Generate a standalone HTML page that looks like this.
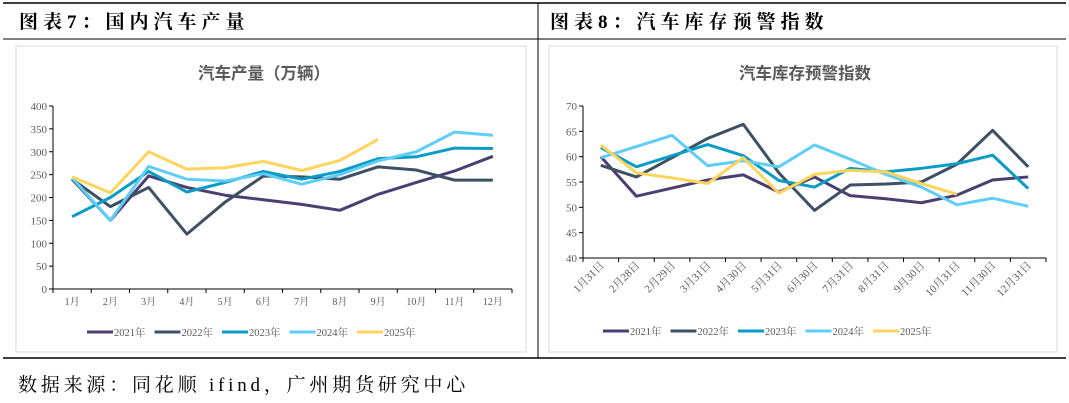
<!DOCTYPE html>
<html><head><meta charset="utf-8">
<style>
body{margin:0;background:#fff;}
svg{display:block;font-family:"Liberation Serif","Noto Serif CJK SC",serif;}
</style></head>
<body>
<svg id="s" width="1069" height="403" viewBox="0 0 1069 403" xmlns="http://www.w3.org/2000/svg">
<line x1="3" y1="3" x2="1066" y2="3" stroke="#000" stroke-width="1.5"/>
<line x1="3" y1="39" x2="1066" y2="39" stroke="#000" stroke-width="1"/>
<line x1="3" y1="358" x2="1066" y2="358" stroke="#000" stroke-width="1.5"/>
<line x1="538" y1="3" x2="538" y2="358" stroke="#000" stroke-width="1"/>
<text x="19" y="28" font-size="19" font-weight="bold" letter-spacing="5">图表7：国内汽车产量</text>
<text x="550" y="28" font-size="19" font-weight="bold" letter-spacing="5">图表8：汽车库存预警指数</text>
<rect x="16" y="46" width="510" height="306" fill="#fff" stroke="#d9d9d9"/>
<rect x="549" y="46" width="508" height="306" fill="#fff" stroke="#d9d9d9"/>
<text x="264" y="79" font-size="16.5" font-weight="bold" fill="#595959" text-anchor="middle" font-family="Liberation Sans,Noto Sans CJK SC,sans-serif">汽车产量（万辆）</text>
<text x="805" y="79" font-size="16.5" font-weight="bold" fill="#595959" text-anchor="middle" font-family="Liberation Sans,Noto Sans CJK SC,sans-serif">汽车库存预警指数</text>
<text x="18" y="391" font-size="19" letter-spacing="3.8">数据来源：同花顺 ifind，广州期货研究中心</text>
<g id="L"></g><g id="R"></g>
</svg>
<script>
const years=["2021年","2022年","2023年","2024年","2025年"];
const colors=["#4b3f72","#3e5064","#0a9bc6","#5ecdf7","#fdd55e"];
const leftCats=["1月","2月","3月","4月","5月","6月","7月","8月","9月","10月","11月","12月"];
const leftTicks=[0,50,100,150,200,250,300,350,400];
const p2021=[240,150,247,222,205,195,185,172,207,233,258,290];
const p2022=[240,180,222,120,190,247,245,240,267,260,238,238];
const p2023=[158,200,257,212,233,257,240,257,285,289,308,307];
const p2024=[243,150,268,240,236,252,229,250,280,300,343,336];
const p2025=[245,210,300,262,265,279,259,281,327];
const rightCats=["1月31日","2月28日","2月29日","3月31日","4月30日","5月31日","6月30日","7月31日","8月31日","9月30日","10月31日","11月30日","12月31日"];
const rightTicks=[40,45,50,55,60,65,70];
const i2021=[60,52.2,53.8,55.4,56.4,53,56,52.3,51.7,50.9,52.4,55.4,56];
const i2022=[58.3,56,59.8,63.6,66.4,56.8,49.4,54.4,54.6,55,58.5,65.2,58];
const i2023=[61.8,58,60.2,62.4,60.2,55.3,54,57.7,57,57.7,58.6,60.3,53.7];
const i2024=[59.8,62,64.2,58.2,59.2,58,62.3,59.5,56.5,54,50.5,51.8,50.2];
const i2025=[62.3,56.8,55.8,54.7,59.8,52.8,56.5,57.3,57,54.7,52.6];

const NS="http://www.w3.org/2000/svg";
function mk(tag,attrs,parent){const e=document.createElementNS(NS,tag);for(const k in attrs)e.setAttribute(k,attrs[k]);parent.appendChild(e);return e;}

function chart(g,cfg){
  const {x0,x1,yTop,yBot,min,max,cats,ticks,series,rot,legY,legX,prefix}=cfg;
  const step=(x1-x0)/cats.length;
  const X=i=>x0+step*(i+0.5);
  const Y=v=>yBot-(v-min)/(max-min)*(yBot-yTop);
  const ax=mk('line',{x1:x0,y1:yTop,x2:x0,y2:yBot,stroke:'#000','stroke-width':1},g);
  
  
  const bx=mk('line',{x1:x0,y1:yBot,x2:x1,y2:yBot,stroke:'#000','stroke-width':1},g);
  
  
  ticks.forEach(t=>{
    const tm=mk('line',{x1:x0-4,y1:Y(t),x2:x0,y2:Y(t),stroke:'#000'},g);
    
    
    const tx=mk('text',{x:x0-6,y:Y(t)+4,'font-size':11,fill:'#595959','text-anchor':'end'},g);
    tx.textContent=t;
    
    
  });
  for(let i=0;i<=cats.length;i++){
    const tm=mk('line',{x1:x0+step*i,y1:yBot,x2:x0+step*i,y2:yBot+4,stroke:'#000'},g);
    
    
  }
  cats.forEach((c,i)=>{
    let tx;
    if(rot){tx=mk('text',{x:X(i)+4,y:yBot+8,'font-size':11,fill:'#595959','text-anchor':'end',transform:`rotate(-45 ${X(i)+4} ${yBot+8})`},g);}
    else{tx=mk('text',{x:X(i),y:yBot+16,'font-size':10,fill:'#595959','text-anchor':'middle'},g);}
    tx.textContent=c;
    
    
  });
  series.forEach((s,k)=>{
    const pl=mk('polyline',{points:s.map((v,i)=>X(i)+','+Y(v)).join(' '),fill:'none',stroke:colors[k],'stroke-width':3,'stroke-linejoin':'round'},g);
    
    
  });
  years.forEach((yname,k)=>{
    const lx=legX+k*67.5;
    const ln=mk('line',{x1:lx,y1:legY,x2:lx+26,y2:legY,stroke:colors[k],'stroke-width':3},g);
    
    
    const lt=mk('text',{x:lx+27,y:legY+4,'font-size':10.5,fill:'#595959'},g);
    lt.textContent=yname;
    
    
  });
}
chart(document.getElementById('L'),{x0:53,x1:512,yTop:106,yBot:289,min:0,max:400,cats:leftCats,ticks:leftTicks,series:[p2021,p2022,p2023,p2024,p2025],rot:false,legY:332,legX:87,prefix:'left'});
chart(document.getElementById('R'),{x0:583,x1:1046,yTop:106,yBot:258,min:40,max:70,cats:rightCats,ticks:rightTicks,series:[i2021,i2022,i2023,i2024,i2025],rot:true,legY:331,legX:603,prefix:'right'});
</script>
</body></html>
